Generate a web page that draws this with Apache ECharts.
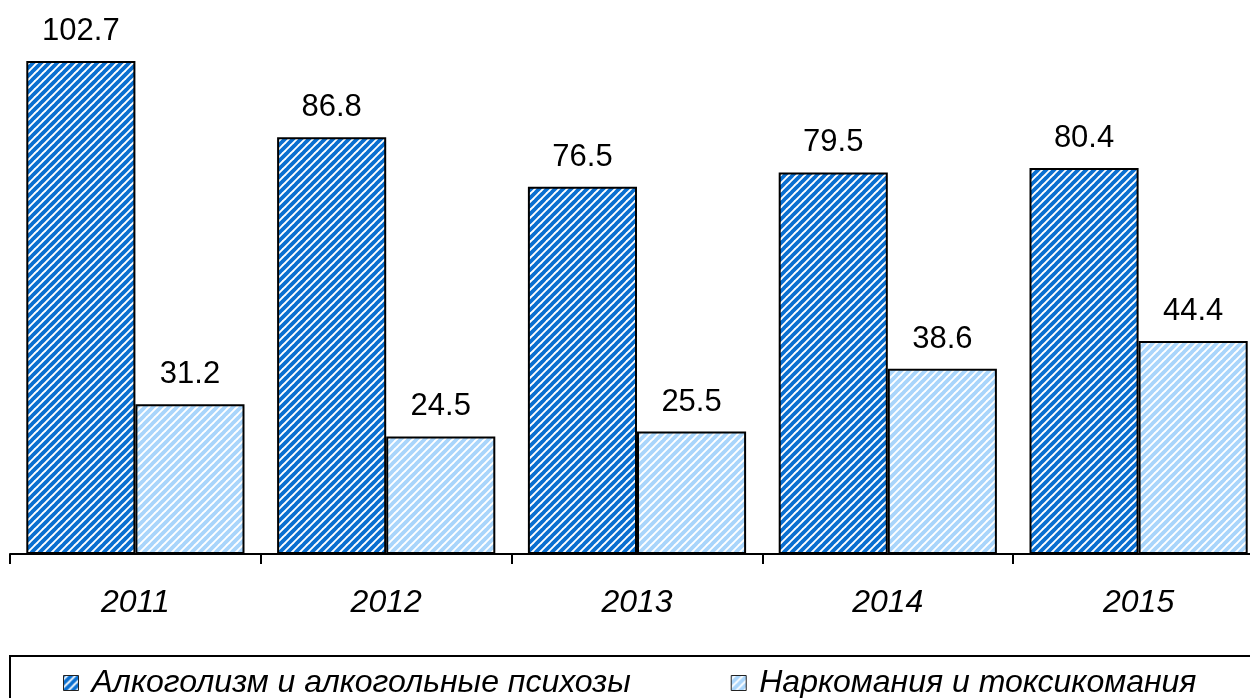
<!DOCTYPE html>
<html>
<head>
<meta charset="utf-8">
<script src="https://cdn.jsdelivr.net/npm/echarts@6/dist/echarts.min.js"></script>
<style>
html, body { margin: 0; padding: 0; background: #fff; overflow: hidden; }
#chart { width: 1264px; height: 698px; }
</style>
</head>
<body>
<div id="chart"></div>
<script>
const years = ['2011', '2012', '2013', '2014', '2015']
const alcohol = [102.7, 86.8, 76.5, 79.5, 80.4]
const drugs = [31.2, 24.5, 25.5, 38.6, 44.4]
const seriesNames = ['Алкоголизм и алкогольные психозы', 'Наркомания и токсикомания']

// diagonal "/" stripes
function stripes(color) {
  const s = 8
  const c = document.createElement('canvas')
  c.width = s
  c.height = s
  const ctx = c.getContext('2d')
  ctx.fillStyle = '#ffffff'
  ctx.fillRect(0, 0, s, s)
  ctx.strokeStyle = color
  ctx.lineWidth = 3.8
  ctx.beginPath()
  for (let k = -1; k <= 1; k++) {
    ctx.moveTo(k * s - 1, s + 1)
    ctx.lineTo(k * s + s + 1, -1)
  }
  ctx.stroke()
  return { image: c, repeat: 'repeat' }
}

const font = '"Liberation Sans", Arial, sans-serif'
const chart = echarts.init(document.getElementById('chart'))

const option = {
  animation: false,
  grid: { left: 10, top: 26, right: 0, bottom: 144 },
  xAxis: {
    type: 'category',
    data: years,
    axisLine: { lineStyle: { color: '#000', width: 2 } },
    axisTick: { show: true, length: 10, lineStyle: { color: '#000', width: 2 } },
    axisLabel: { margin: 33, fontSize: 32, fontStyle: 'italic', color: '#000', fontFamily: font }
  },
  yAxis: {
    type: 'value',
    min: 0,
    max: 110,
    show: false,
    splitLine: { show: false }
  },
  legend: {
    left: 58,
    top: 662,
    itemWidth: 15,
    itemHeight: 15,
    itemGap: 100,
    icon: 'rect',
    itemStyle: { borderColor: '#222', borderWidth: 1 },
    textStyle: { fontSize: 32, fontStyle: 'italic', color: '#000', fontFamily: font, padding: [0, 0, 0, 8] },
    data: seriesNames
  },
  graphic: [{
    type: 'rect',
    shape: { x: 10, y: 656, width: 1300, height: 80 },
    style: { fill: 'none', stroke: '#000', lineWidth: 2 },
    silent: true
  }],
  series: [
    {
      name: seriesNames[0],
      type: 'bar',
      data: alcohol,
      barGap: '0%',
      barCategoryGap: '13%',
      itemStyle: { color: stripes('#0a6fd0'), borderColor: '#000', borderWidth: 2 },
      label: { show: true, position: 'top', distance: 14, fontSize: 31, color: '#000', fontFamily: font, formatter: p => p.value.toFixed(1) }
    },
    {
      name: seriesNames[1],
      type: 'bar',
      data: drugs,
      itemStyle: { color: stripes('#a9d5fb'), borderColor: '#000', borderWidth: 2 },
      label: { show: true, position: 'top', distance: 14, fontSize: 31, color: '#000', fontFamily: font, formatter: p => p.value.toFixed(1) }
    }
  ]
}
chart.setOption(option)
</script>
</body>
</html>
